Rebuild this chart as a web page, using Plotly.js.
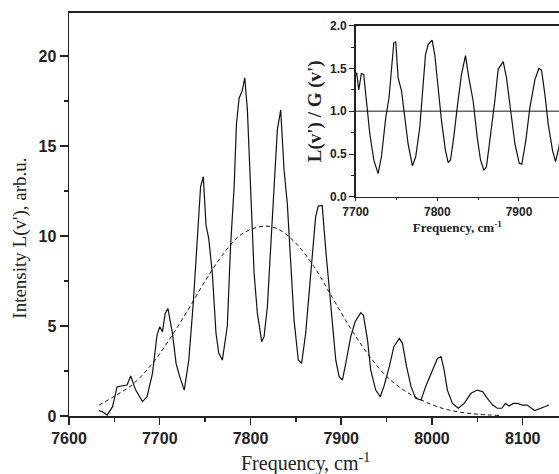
<!DOCTYPE html>
<html>
<head>
<meta charset="utf-8">
<script src="https://cdn.plot.ly/plotly-3.0.1.min.js"></script>
<style>html,body{margin:0;padding:0;background:#fff;}#chart{width:559px;height:474px;}</style>
</head>
<body>
<div id="chart"></div>
<script>
// Measured spectrum L(v')
const freq = [7633,7637,7642,7648,7653,7660,7664,7668,7673.5,7681,7686,7692,7697,7700,7703,7706,7709,7714,7718,7722,7727,7732,7737,7741,7745,7748,7751,7754,7758,7762,7765,7769,7774.5,7778,7782,7784.5,7787.4,7791,7793.7,7796.6,7800,7804,7807.6,7812.4,7815,7818.6,7822.3,7826,7829.6,7833.3,7837,7840.6,7844.3,7848,7852.7,7856.4,7860.8,7866.3,7871.8,7874.7,7879,7883,7888.5,7894,7897.7,7901.3,7905,7910.5,7915.3,7921.5,7924.5,7929,7932.5,7938,7943,7947,7953,7958,7964,7967.5,7972,7977,7982,7988,7993,8000.6,8006,8010,8013.4,8017,8022.6,8029,8035.5,8043,8050,8056,8061,8067,8072,8077,8081,8085,8089.5,8094,8100,8105,8113,8120,8129];
const intensity = [0.30,0.24,0.05,0.52,1.63,1.67,1.72,2.22,1.44,0.80,1.07,2.37,4.5,4.96,4.68,5.7,5.98,4.59,2.93,2.19,1.44,3.1,6.3,9.5,12.74,13.3,10.6,9.87,7.9,4.6,3.5,3.11,5.0,9.4,12.74,16.2,17.65,18.1,18.8,17.0,12.4,7.93,5.7,4.13,4.41,6.07,9.41,12.74,15.9,17.0,13.67,11.8,8.67,5.33,3.11,2.93,4.59,7.93,11.07,11.67,11.7,9.2,6.1,3.1,2.19,2.0,2.93,4.41,5.24,5.74,5.6,4.22,2.56,1.44,1.07,1.63,2.74,3.85,4.31,4.04,2.74,1.63,0.98,0.89,1.63,2.56,3.2,3.3,2.56,1.44,0.70,0.43,0.70,1.26,1.44,1.35,0.98,0.61,0.43,0.43,0.70,0.56,0.70,0.70,0.61,0.61,0.30,0.43,0.61];

// Gaussian envelope G(v') (dashed)
const gaussFreq = [7633,7650,7670,7690,7710,7730,7750,7770,7790,7814,7830,7850,7870,7890,7910,7930,7950,7970,7990,8010,8030,8050,8074];
const gaussVal  = [0.6,1.1,1.75,2.8,4.2,5.8,7.5,9.0,10.1,10.55,10.4,9.6,8.3,6.6,4.9,3.4,2.2,1.4,0.85,0.45,0.22,0.1,0.03];

// Inset: ratio L(v')/G(v')
const ratioFreq = [7700,7701.3,7703.8,7707,7709.9,7713.2,7717.3,7722.2,7727.5,7731.6,7736.9,7740.9,7744.6,7746.7,7749.1,7752,7756.1,7760.1,7764.2,7769.5,7773.6,7778.5,7782.6,7785.5,7788.7,7793.6,7796.9,7801,7805.1,7810,7813.3,7816.1,7820.2,7824.3,7829.6,7834.5,7838.6,7843.9,7848.8,7852.9,7857,7860.2,7865.1,7870.4,7874.5,7880.7,7884.7,7889.6,7895,7900.3,7903.5,7908.4,7913.3,7919.5,7924.4,7927.6,7931.7,7935.8,7941.1,7944.8,7948.9,7952];
const ratioVal  = [1.42,1.45,1.25,1.44,1.43,1.12,0.74,0.43,0.27,0.47,0.93,1.16,1.58,1.80,1.81,1.39,1.24,0.93,0.62,0.36,0.47,0.81,1.31,1.66,1.78,1.83,1.66,1.24,0.89,0.54,0.40,0.43,0.70,1.04,1.43,1.65,1.39,1.12,0.70,0.43,0.31,0.35,0.70,1.12,1.49,1.58,1.39,1.01,0.62,0.39,0.38,0.66,1.04,1.37,1.50,1.48,1.20,0.85,0.54,0.41,0.58,0.8];
const unityFreq = [7700,7950];
const unityVal  = [1,1];

const mainTickX = [7600,7700,7800,7900,8000,8100];
const mainTickY = [0,5,10,15,20];
const insetTickX = [7700,7800,7900];
const insetTickY = [0.0,0.5,1.0,1.5,2.0];

const xTitle = 'Frequency, cm<sup>-1</sup>';
const yTitle = "Intensity L(v'), arb.u.";
const insetXTitle = 'Frequency, cm<sup>-1</sup>';
const insetYTitle = "L(v') / G (v')";

const tickFont = {family:'Liberation Sans, Arial, sans-serif', size:16, color:'#222', weight:'bold'};
const insetTickFont = {family:'Liberation Sans, Arial, sans-serif', size:12, color:'#222', weight:'bold'};
const serif = 'Liberation Serif, Times New Roman, serif';

const traces = [
  {x:freq, y:intensity, type:'scatter', mode:'lines', line:{color:'#111', width:1.2}, xaxis:'x', yaxis:'y', hoverinfo:'skip'},
  {x:gaussFreq, y:gaussVal, type:'scatter', mode:'lines', line:{color:'#111', width:1, dash:'4px,3px', shape:'spline'}, xaxis:'x', yaxis:'y', hoverinfo:'skip'},
  {x:unityFreq, y:unityVal, type:'scatter', mode:'lines', line:{color:'#666', width:1.5}, xaxis:'x2', yaxis:'y2', hoverinfo:'skip'},
  {x:ratioFreq, y:ratioVal, type:'scatter', mode:'lines', line:{color:'#111', width:1.2}, xaxis:'x2', yaxis:'y2', hoverinfo:'skip'}
];

const layout = {
  width:559, height:474,
  margin:{l:69, r:0, t:13, b:58, pad:0},
  paper_bgcolor:'#fff', plot_bgcolor:'rgba(0,0,0,0)',
  showlegend:false,
  xaxis:{
    domain:[0,1], range:[7600,8140], anchor:'y',
    tickvals:mainTickX, ticktext:mainTickX.map(String),
    ticks:'outside', ticklen:7, tickwidth:1.5, tickcolor:'#222',
    minor:{dtick:50, tick0:7600, ticks:'outside', ticklen:4, tickwidth:1.5, tickcolor:'#222'},
    showline:true, linecolor:'#222', linewidth:2, mirror:true,
    showgrid:false, zeroline:false, tickfont:tickFont
  },
  yaxis:{
    domain:[0,1], range:[0,22.4], anchor:'x',
    tickvals:mainTickY, ticktext:mainTickY.map(String),
    ticks:'outside', ticklen:8, tickwidth:1.5, tickcolor:'#222',
    minor:{dtick:2.5, tick0:0, ticks:'outside', ticklen:4, tickwidth:1.5, tickcolor:'#222'},
    showline:true, linecolor:'#222', linewidth:1.5,
    showgrid:false, zeroline:false, tickfont:tickFont
  },
  xaxis2:{
    domain:[0.585,1], range:[7700,7949], anchor:'y2',
    tickvals:insetTickX, ticktext:insetTickX.map(String),
    ticks:'outside', ticklen:3, tickwidth:1, tickcolor:'#222',
    minor:{dtick:50, tick0:7700, ticks:'outside', ticklen:2, tickwidth:1, tickcolor:'#222'},
    showline:true, linecolor:'#222', linewidth:1.5, mirror:true,
    showgrid:false, zeroline:false, tickfont:insetTickFont,
    title:{text:insetXTitle, font:{family:serif, size:13, color:'#222', weight:'bold'}, standoff:4}
  },
  yaxis2:{
    domain:[0.544,0.9685], range:[0,2], anchor:'x2',
    tickvals:insetTickY, ticktext:insetTickY.map(v=>v.toFixed(1)),
    ticks:'outside', ticklen:5, tickwidth:1, tickcolor:'#222',
    minor:{dtick:0.25, tick0:0, ticks:'outside', ticklen:3, tickwidth:1, tickcolor:'#222'},
    showline:true, linecolor:'#222', linewidth:1.5,
    showgrid:false, zeroline:false, tickfont:insetTickFont,
    title:{text:insetYTitle, font:{family:serif, size:19, color:'#222', weight:'bold'}, standoff:3}
  },
  annotations:[
    {text:xTitle, xref:'paper', yref:'paper', x:0.482, y:-0.115, xanchor:'center', yanchor:'middle', showarrow:false, font:{family:serif, size:20, color:'#222'}},
    {text:yTitle, xref:'paper', yref:'paper', x:-0.1, y:0.44, xanchor:'center', yanchor:'middle', textangle:-90, showarrow:false, font:{family:serif, size:19, color:'#222'}}
  ],
  shapes:[
    {type:'rect', xref:'x2 domain', yref:'y2 domain', x0:0, x1:1.01, y0:0, y1:1, fillcolor:'#fff', line:{width:0}, layer:'below'}
  ]
};

Plotly.newPlot('chart', traces, layout, {displayModeBar:false, staticPlot:true});
</script>
</body>
</html>
